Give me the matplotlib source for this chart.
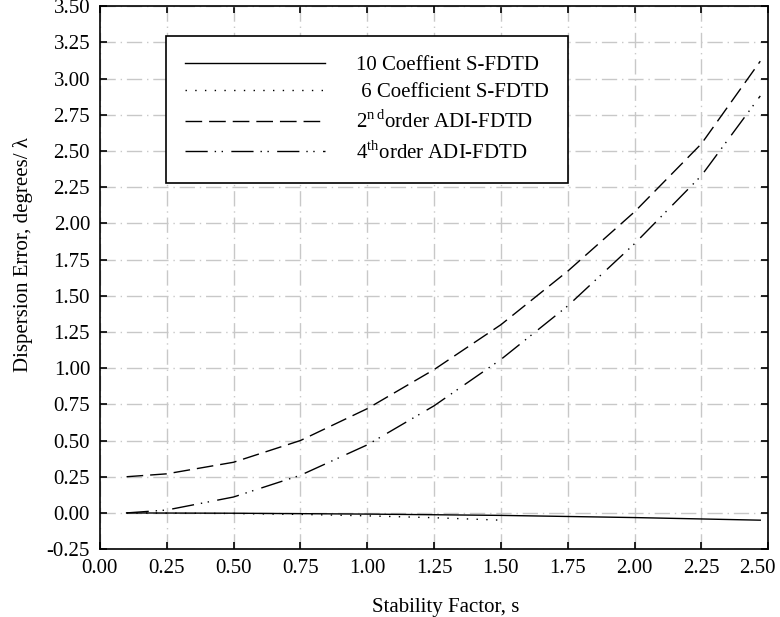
'''Dispersion error versus stability factor for S-FDTD and ADI-FDTD'''
import matplotlib
matplotlib.use('Agg')
import matplotlib.pyplot as plt
import matplotlib.transforms as mtransforms
import numpy as np

plt.rcParams['font.family'] = ['Liberation Serif', 'DejaVu Serif']
plt.rcParams['mathtext.fontset'] = 'custom'
plt.rcParams['mathtext.rm'] = 'Liberation Serif'
plt.rcParams['lines.scale_dashes'] = False

# values
s_adi = [0.1, 0.25, 0.5, 0.75, 1.0, 1.25, 1.5, 1.75, 2.0, 2.25, 2.47]
adi2 = [0.25, 0.27, 0.35, 0.50, 0.72, 0.99, 1.30, 1.67, 2.08, 2.55, 3.12]
adi4 = [0.0, 0.02, 0.11, 0.26, 0.47, 0.74, 1.06, 1.43, 1.86, 2.33, 2.88]

s_10 = [0.1, 0.5, 1.0, 1.5, 2.0, 2.47]
coef10 = [0.0, -0.002, -0.008, -0.017, -0.032, -0.05]

s_6 = [0.1, 0.5, 0.75, 1.0, 1.25, 1.5]
coef6 = [0.0, -0.004, -0.01, -0.02, -0.033, -0.05]

labels = ['10 Coeffient S-FDTD',
          ' 6 Coefficient S-FDTD',
          r'$2^{\mathrm{n\,d}}$order ADI-FDTD',
          r'$4^{\mathrm{th}}$order ADI-FDTD']

x_ticks = np.arange(0, 2.51, 0.25)
y_ticks = np.arange(-0.25, 3.51, 0.25)


def dispersion_plot():
    '''Draws the four dispersion curves'''
    fig = plt.figure(figsize=(7.8, 6.17), dpi=100)
    ax = fig.add_axes([0.128, 0.110, 0.857, 0.880])

    ax.plot(s_10, coef10, color='black', lw=1.0, label=labels[0])
    ax.plot(s_6, coef6, color='black', lw=1.0, linestyle=(0, (1, 6)),
            label=labels[1])
    ax.plot(s_adi, adi2, color='black', lw=1.0, linestyle=(0, (12, 5)),
            label=labels[2])
    ax.plot(s_adi, adi4, color='black', lw=1.0,
            linestyle=(0, (16, 5, 1, 4, 1, 6)), label=labels[3])

    ax.set_xlim(0, 2.5)
    ax.set_ylim(-0.25, 3.5)
    ax.set_xticks(x_ticks)
    ax.set_yticks(y_ticks)
    ax.set_xticklabels([f'{v:.2f}' for v in x_ticks], fontsize=15)
    ax.set_yticklabels([f'{v:.2f}' for v in y_ticks], fontsize=15)
    ax.tick_params(direction='in', length=5, width=1.2, right=True,
                   top=True, pad=7)
    # the last x label sits at the figure edge, nudge it inside
    last = ax.get_xticklabels()[-1]
    last.set_transform(last.get_transform() + mtransforms.ScaledTranslation(
        -8 / 72, 0, fig.dpi_scale_trans))
    ax.grid(color='#c8c8c8', linestyle=(0, (11, 3.5, 1, 3.5)), linewidth=1)
    ax.set_axisbelow(True)
    for spine in ax.spines.values():
        spine.set_linewidth(1.2)

    ax.set_xlabel('Stability Factor, s', fontsize=15)
    ax.xaxis.set_label_coords(0.518, -0.09)
    ax.set_ylabel('Dispersion Error, degrees/ λ', fontsize=15)
    ax.yaxis.set_label_coords(-0.10, 0.542)

    leg = ax.legend(loc='upper left', bbox_to_anchor=(0.0988, 0.9446),
                    borderaxespad=0, fontsize=15, handlelength=6.7,
                    handletextpad=1.5, labelspacing=0.38, borderpad=0.92,
                    fancybox=False, framealpha=1, edgecolor='black')
    leg.get_frame().set_linewidth(1.2)

    fig.savefig('out.png', dpi=100)


if __name__ == '__main__':
    dispersion_plot()
